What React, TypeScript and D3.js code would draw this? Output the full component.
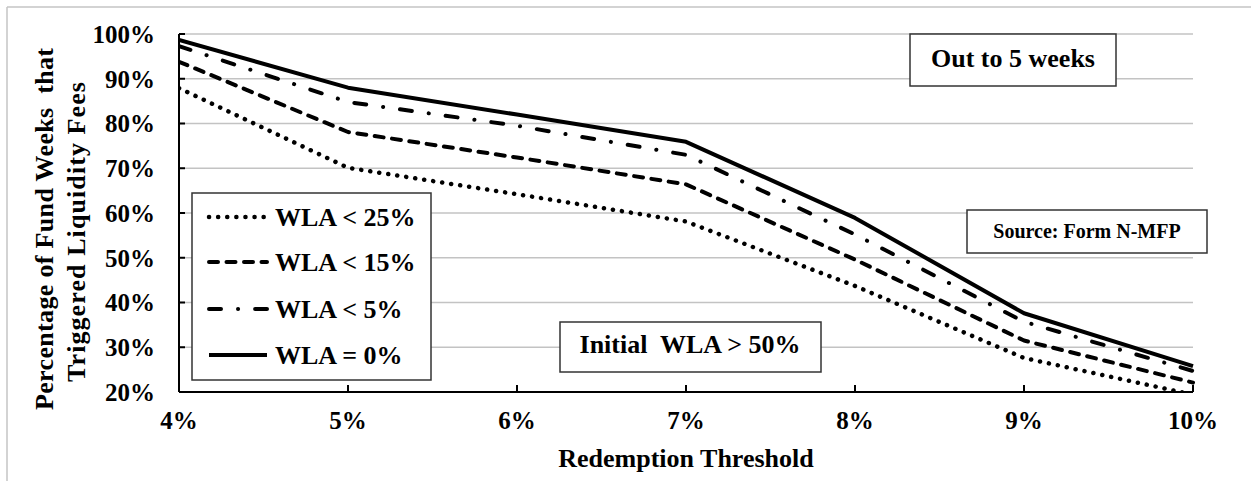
import React from "react";
import * as d3 from "d3";

const thresholds = [4, 5, 6, 7, 8, 9, 10];
const wla25 = [87.9, 70.1, 64.2, 58.1, 43.7, 27.6, 19.4];
const wla15 = [93.8, 78.1, 72.4, 66.4, 49.6, 31.5, 22.1];
const wla5 = [97.3, 84.8, 79.5, 73.0, 55.2, 35.7, 24.7];
const wla0 = [98.7, 88.0, 82.0, 75.9, 58.9, 37.6, 25.8];
const yTicks = [20, 30, 40, 50, 60, 70, 80, 90, 100];

const seriesNames = ["WLA < 25%", "WLA < 15%", "WLA < 5%", "WLA = 0%"];
const seriesValues = [wla25, wla15, wla5, wla0];
const seriesDash = ["0.1 9", "9 8.5", "12 17 0.1 17", "none"];
const seriesWidth = [4.5, 4, 4, 4];

const W = 1251;
const H = 481;
const FONT = "'Liberation Serif', 'Times New Roman', serif";

export default function App() {
  const x = d3.scaleLinear().domain([4, 10]).range([179, 1193]);
  const y = d3.scaleLinear().domain([20, 100]).range([392, 34]);
  const line = d3
    .line<number>()
    .x((_, i) => x(thresholds[i]))
    .y((d) => y(d));

  const legendX = 192;
  const legendY = 193;
  const legendRows = [217, 262, 309, 355];

  return (
    <svg
      width={W}
      height={H}
      style={{ position: "absolute", left: 0, top: 0, background: "#fff" }}
      fontFamily={FONT}
      fontWeight="bold"
    >
      <defs>
        <clipPath id="plot">
          <rect x={x(4)} y={y(100) - 6} width={x(10) - x(4) + 6} height={y(20) - y(100) + 6} />
        </clipPath>
      </defs>
      {/* outer border */}
      <line x1={7} y1={7} x2={W} y2={7} stroke="#c4c4c4" strokeWidth={1.5} />
      <line x1={7} y1={7} x2={7} y2={H} stroke="#c4c4c4" strokeWidth={1.5} />

      {/* gridlines */}
      {yTicks.slice(1).map((t) => (
        <line key={t} x1={x(4)} x2={x(10)} y1={y(t)} y2={y(t)} stroke="#c3c3c3" strokeWidth={1.5} />
      ))}

      {/* axes */}
      <line x1={x(4)} x2={x(4)} y1={y(100)} y2={y(20)} stroke="#000" strokeWidth={2} />
      <line x1={x(4)} x2={x(10)} y1={y(20)} y2={y(20)} stroke="#000" strokeWidth={2} />
      {yTicks.map((t) => (
        <g key={"yt" + t}>
          <line x1={x(4)} x2={x(4) + 6} y1={y(t)} y2={y(t)} stroke="#000" strokeWidth={2} />
          <text x={155} y={y(t)} dy="0.35em" textAnchor="end" fontSize={25} fill="#000">
            {t}%
          </text>
        </g>
      ))}
      {thresholds.map((t) => (
        <g key={"xt" + t}>
          <line x1={x(t)} x2={x(t)} y1={y(20)} y2={y(20) - 7} stroke="#000" strokeWidth={2} />
          <text x={x(t)} y={429} textAnchor="middle" fontSize={25} fill="#000">
            {t}%
          </text>
        </g>
      ))}

      {/* axis titles */}
      <text x={(x(4) + x(10)) / 2} y={467} textAnchor="middle" fontSize={26} fill="#000">
        Redemption Threshold
      </text>
      <g transform="translate(53,229) rotate(-90)">
        <text
          x={0}
          y={0}
          textAnchor="middle"
          fontSize={26}
          fill="#000"
          textLength={362}
          lengthAdjust="spacing"
          style={{ whiteSpace: "pre" }}
        >
          {"Percentage of Fund Weeks  that"}
        </text>
      </g>
      <g transform="translate(85,232) rotate(-90)">
        <text x={0} y={0} textAnchor="middle" fontSize={26} fill="#000" textLength={300} lengthAdjust="spacing">
          Triggered Liquidity Fees
        </text>
      </g>

      {/* annotation boxes */}
      <rect x={910} y={34} width={206} height={52} fill="#fff" stroke="#333" strokeWidth={1.5} />
      <text x={1013} y={67} textAnchor="middle" fontSize={26} fill="#000">
        Out to 5 weeks
      </text>
      <rect x={967} y={210} width={240} height={43} fill="#fff" stroke="#333" strokeWidth={1.5} />
      <text x={1087} y={238} textAnchor="middle" fontSize={20} fill="#000">
        Source: Form N-MFP
      </text>

      {/* series */}
      <g clipPath="url(#plot)">
        {seriesValues.map((vals, i) => (
          <path
            key={seriesNames[i]}
            d={line(vals) || ""}
            fill="none"
            stroke="#000"
            strokeWidth={seriesWidth[i]}
            strokeDasharray={seriesDash[i]}
            strokeLinecap={i === 3 ? "butt" : "round"}
            strokeLinejoin="round"
          />
        ))}
      </g>

      <rect x={560} y={322} width={261} height={50} fill="#fff" stroke="#333" strokeWidth={1.5} />
      <text x={690} y={353} textAnchor="middle" fontSize={26} fill="#000" style={{ whiteSpace: "pre" }}>
        {"Initial  WLA > 50%"}
      </text>

      {/* legend */}
      <rect x={legendX} y={legendY} width={239} height={187} fill="#fff" stroke="#333" strokeWidth={1.5} />
      {seriesNames.map((name, i) => (
        <g key={"lg" + name}>
          <line
            x1={209}
            x2={267}
            y1={legendRows[i]}
            y2={legendRows[i]}
            stroke="#000"
            strokeWidth={seriesWidth[i]}
            strokeDasharray={seriesDash[i]}
            strokeLinecap={i === 3 ? "butt" : "round"}
          />
          <text x={275} y={legendRows[i]} dy="0.35em" fontSize={26} fill="#000">
            {name}
          </text>
        </g>
      ))}
    </svg>
  );
}
